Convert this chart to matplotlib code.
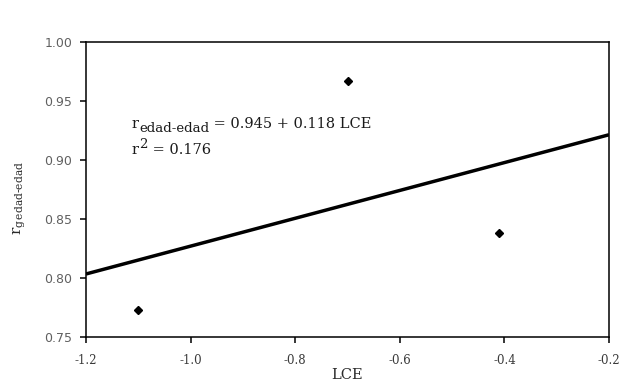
import matplotlib
matplotlib.use("Agg")
import matplotlib.pyplot as plt
import numpy as np

lce = [-1.1, -0.7, -0.41]
r_edad = [0.773, 0.967, 0.838]
intercept = 0.945
slope = 0.118
x_ticks = [-1.2, -1.0, -0.8, -0.6, -0.4, -0.2]
y_ticks = [0.75, 0.80, 0.85, 0.90, 0.95, 1.00]

plt.rcParams["mathtext.fontset"] = "dejavuserif"
SERIF = "DejaVu Serif"

fig = plt.figure(figsize=(6.25, 3.85), dpi=100)
ax = fig.add_axes([0.1376, 0.1247, 0.8368, 0.7662])

xl = np.array([-1.2, -0.2])
ax.plot(xl, intercept + slope * xl, color="black", lw=2.5, solid_capstyle="butt")
ax.plot(lce, r_edad, linestyle="none", marker="D", markersize=4, color="black")

ax.set_xlim(-1.2, -0.2)
ax.set_ylim(0.75, 1.00)
ax.set_xticks(x_ticks)
ax.set_xticklabels([f"{v:.1f}" for v in x_ticks], fontfamily=SERIF, fontsize=8.5, color="#3a3a3a")
ax.set_yticks(y_ticks)
ax.set_yticklabels([f"{v:.2f}" for v in y_ticks], fontfamily="DejaVu Sans", fontsize=9, color="#606060")
ax.tick_params(axis="x", direction="out", length=4, width=1.1, color="black", pad=8)
ax.tick_params(axis="y", direction="out", length=4.5, width=1.1, color="black", pad=5.5)
for s in ax.spines.values():
    s.set_linewidth(1.1)
    s.set_color("black")

ax.set_xlabel("LCE", fontfamily=SERIF, fontsize=10.5, labelpad=1, color="#2a2a2a")
ax.set_ylabel(r"r$_{\mathregular{g\,edad\text{-}edad}}$", fontfamily=SERIF, fontsize=11,
              labelpad=10, color="#2a2a2a")
ax.yaxis.set_label_coords(-0.111, 0.47)

tc = "#1a1a1a"
t1 = ax.text(0.087, 0.707, "r", transform=ax.transAxes, fontfamily=SERIF, fontsize=10.5, color=tc)
t2 = ax.annotate("edad-edad", xy=(1, 0), xycoords=t1, xytext=(0.5, -2.5), textcoords="offset points",
                 ha="left", va="bottom", fontfamily=SERIF, fontsize=9.5, color=tc)
t3 = ax.annotate(" = 0.945 + 0.118 LCE", xy=(1, 0), xycoords=t2, xytext=(0, 2.5), textcoords="offset points",
                 ha="left", va="bottom", fontfamily=SERIF, fontsize=10.5, color=tc)
u1 = ax.text(0.087, 0.619, "r", transform=ax.transAxes, fontfamily=SERIF, fontsize=10.5, color=tc)
u2 = ax.annotate("2", xy=(1, 0), xycoords=u1, xytext=(0.5, 4.5), textcoords="offset points",
                 ha="left", va="bottom", fontfamily=SERIF, fontsize=9.5, color=tc)
u3 = ax.annotate(" = 0.176", xy=(1, 0), xycoords=u2, xytext=(0, -4.5), textcoords="offset points",
                 ha="left", va="bottom", fontfamily=SERIF, fontsize=10.5, color=tc)

fig.savefig("out.png", dpi=100)
